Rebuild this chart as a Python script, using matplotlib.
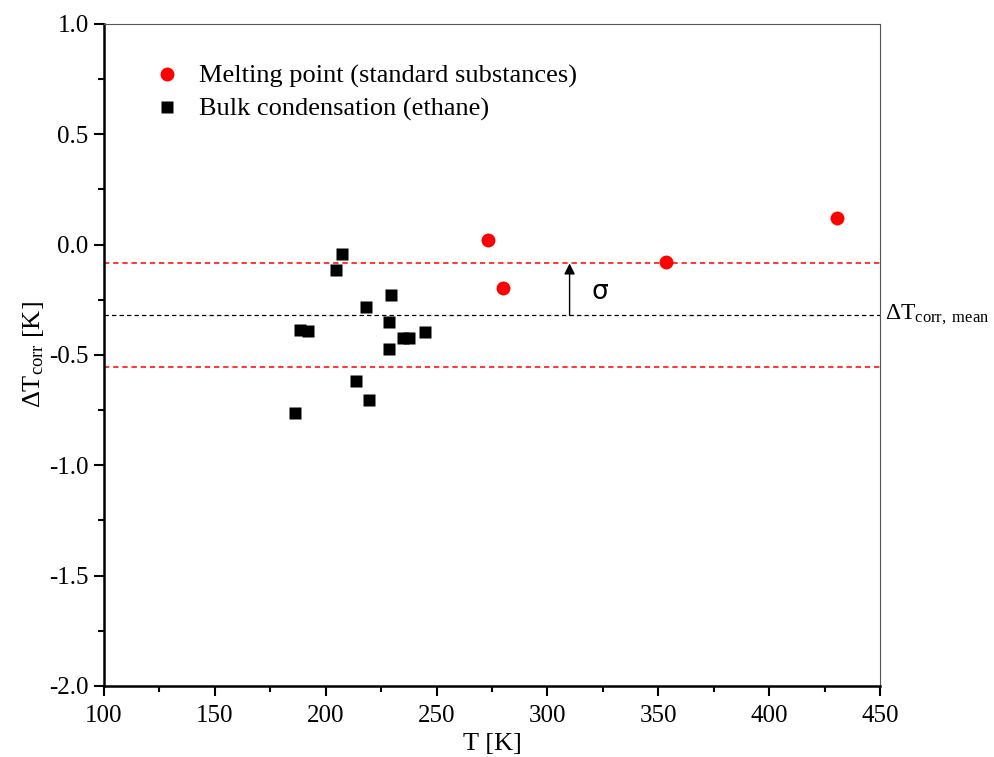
import numpy as np
import matplotlib
matplotlib.use('Agg')
import matplotlib.pyplot as plt
from matplotlib.ticker import MultipleLocator, FormatStrFormatter

plt.rcParams['font.family'] = ['Liberation Serif', 'DejaVu Serif']
plt.rcParams['mathtext.fontset'] = 'custom'
plt.rcParams['mathtext.rm'] = 'Liberation Serif'
plt.rcParams['mathtext.it'] = 'Liberation Serif:italic'
plt.rcParams['axes.unicode_minus'] = False

# melting point of standard substances
T_melt = [273, 280, 353.5, 430.5]
dT_melt = [0.02, -0.196, -0.08, 0.12]

# bulk condensation of ethane
T_bulk = [186.3, 188.3, 192.0, 204.5, 207.4, 213.5, 218.2, 219.5,
          228.6, 228.6, 229.6, 235.0, 237.4, 244.8]
dT_bulk = [-0.764, -0.387, -0.393, -0.116, -0.044, -0.618, -0.282, -0.703,
           -0.350, -0.474, -0.227, -0.424, -0.424, -0.397]

dT_mean = -0.32
sigma = 0.235
T_arrow = 310

fig = plt.figure(figsize=(9.95, 7.57), dpi=100)
ax = fig.add_axes([0.1045, 0.0938, 0.7799, 0.8745])

# mittelwert und +/- sigma
ax.axhline(dT_mean, color='black', lw=0.9, ls=(0, (3.5, 2.5)), zorder=1)
ax.axhline(dT_mean + sigma, color='#ff0000', lw=1.1, ls=(0, (3.5, 2.5)), zorder=1)
ax.axhline(dT_mean - sigma, color='#ff0000', lw=1.1, ls=(0, (3.5, 2.5)), zorder=1)

ax.plot(T_melt, dT_melt, 'o', color='#ff0000', ms=10, mec='none',
        label='Melting point (standard substances)', zorder=3)
ax.plot(T_bulk, dT_bulk, 's', color='black', ms=9, mec='none',
        label='Bulk condensation (ethane)', zorder=3)

ax.annotate('', xy=(T_arrow, dT_mean + sigma), xytext=(T_arrow, dT_mean),
            arrowprops=dict(arrowstyle='-|>', color='black', lw=1,
                            mutation_scale=16, shrinkA=0, shrinkB=0))
ax.text(T_arrow + 10, dT_mean + 0.105, 'σ', fontsize=19, va='center', ha='left',
        family=['DejaVu Sans'])
ax.text(1.006, dT_mean, r'$\Delta$T$_\mathregular{corr,\ mean}$', fontsize=17,
        va='center', ha='left', transform=ax.get_yaxis_transform())

ax.set_xlim(100, 450)
ax.set_ylim(-2.0, 1.0)
ax.xaxis.set_major_locator(MultipleLocator(50))
ax.xaxis.set_minor_locator(MultipleLocator(25))
ax.yaxis.set_major_locator(MultipleLocator(0.5))
ax.yaxis.set_minor_locator(MultipleLocator(0.25))
ax.yaxis.set_major_formatter(FormatStrFormatter('%.1f'))

ax.tick_params(which='both', direction='out', top=False, right=False,
               labelsize=18, width=1.5)
ax.tick_params(which='major', length=7, pad=4)
ax.tick_params(axis='x', which='major', pad=7)
ax.tick_params(which='minor', length=4)

for s in ['left', 'bottom']:
    ax.spines[s].set_linewidth(1.8)
for s in ['top', 'right']:
    ax.spines[s].set_linewidth(0.8)
    ax.spines[s].set_color('#555555')

ax.set_xlabel('T [K]', fontsize=19, labelpad=4)
ax.set_ylabel(r'$\Delta$T$_\mathregular{corr}$ [K]', fontsize=19, labelpad=2)

ax.legend(loc='upper left', bbox_to_anchor=(0.051, 0.955), frameon=False,
          fontsize=19, handletextpad=0.7, labelspacing=0.35,
          handlelength=1.0, borderaxespad=0)

fig.savefig('out.png', dpi=100)
